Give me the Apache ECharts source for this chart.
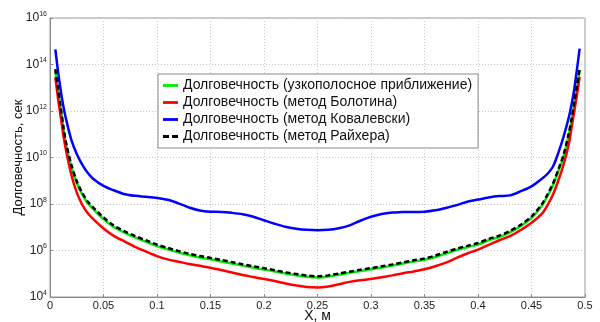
<!DOCTYPE html>
<html>
<head>
<meta charset="utf-8">
<script src="https://cdn.jsdelivr.net/npm/echarts@6/dist/echarts.min.js"></script>
<style>
  html, body { margin: 0; padding: 0; background: #fff; }
  #chart { width: 600px; height: 322px; }
</style>
</head>
<body>
<div id="chart"></div>
<script>
// x positions, м
const xs = [0.005, 0.0075, 0.01, 0.0125, 0.015, 0.02, 0.025, 0.03, 0.035, 0.04,
  0.05, 0.06, 0.07, 0.08, 0.09, 0.10, 0.11, 0.12, 0.13, 0.14,
  0.15, 0.16, 0.17, 0.18, 0.19, 0.20, 0.21, 0.22, 0.23, 0.24,
  0.25, 0.26, 0.27, 0.28, 0.29, 0.30, 0.31, 0.32, 0.33, 0.34,
  0.35, 0.36, 0.37, 0.38, 0.39, 0.40, 0.41, 0.42, 0.43, 0.44,
  0.45, 0.46, 0.465, 0.47, 0.475, 0.48, 0.485, 0.4875, 0.49, 0.4925, 0.495]

// durability as decimal exponent (сек = 10^v)
const narrowbandExp = [13.72, 12.9, 12.1, 11.25, 10.55, 9.6, 8.9, 8.42, 8.05, 7.8,
  7.35, 7.0, 6.76, 6.55, 6.37, 6.19, 6.05, 5.92, 5.8, 5.7,
  5.62, 5.53, 5.44, 5.35, 5.26, 5.18, 5.1, 5.01, 4.94, 4.87,
  4.84, 4.88, 4.96, 5.04, 5.12, 5.19, 5.27, 5.35, 5.44, 5.53,
  5.6, 5.72, 5.87, 6.02, 6.14, 6.26, 6.44, 6.58, 6.78, 7.05,
  7.4, 7.95, 8.35, 8.8, 9.4, 10.05, 11.0, 11.6, 12.3, 13.0, 13.76]

const bolotinExp = [13.45, 12.55, 11.75, 10.95, 10.3, 9.25, 8.5, 7.98, 7.62, 7.37,
  6.95, 6.62, 6.38, 6.15, 5.95, 5.76, 5.62, 5.52, 5.42, 5.34,
  5.26, 5.16, 5.05, 4.95, 4.86, 4.77, 4.69, 4.58, 4.5, 4.43,
  4.41, 4.45, 4.55, 4.65, 4.72, 4.77, 4.85, 4.93, 5.02, 5.1,
  5.19, 5.32, 5.48, 5.68, 5.87, 6.04, 6.24, 6.44, 6.62, 6.88,
  7.19, 7.6, 7.95, 8.4, 9.0, 9.7, 10.6, 11.3, 12.0, 12.7, 13.47]

const kowalewskiExp = [14.65, 13.7, 12.9, 12.2, 11.65, 10.75, 10.15, 9.7, 9.35, 9.1,
  8.78, 8.58, 8.42, 8.35, 8.31, 8.26, 8.18, 8.03, 7.85, 7.72,
  7.67, 7.66, 7.62, 7.56, 7.45, 7.3, 7.15, 7.02, 6.94, 6.89,
  6.87, 6.89, 6.96, 7.08, 7.28, 7.45, 7.57, 7.63, 7.66, 7.66,
  7.67, 7.73, 7.83, 7.95, 8.1, 8.19, 8.28, 8.34, 8.37, 8.55,
  8.76, 9.1, 9.3, 9.6, 10.19, 10.9, 11.75, 12.3, 12.95, 13.8, 14.68]

const rayherExp = [13.8, 12.96, 12.16, 11.33, 10.63, 9.68, 8.98, 8.49, 8.12, 7.87,
  7.42, 7.06, 6.82, 6.61, 6.43, 6.25, 6.11, 5.98, 5.86, 5.76,
  5.68, 5.59, 5.5, 5.41, 5.32, 5.24, 5.15, 5.06, 4.99, 4.92,
  4.89, 4.93, 5.01, 5.09, 5.17, 5.24, 5.32, 5.4, 5.49, 5.58,
  5.66, 5.78, 5.93, 6.08, 6.2, 6.32, 6.5, 6.64, 6.84, 7.11,
  7.46, 8.01, 8.42, 8.87, 9.47, 10.12, 11.08, 11.68, 12.38, 13.08, 13.82]

const seriesNames = [
  'Долговечность (узкополосное приближение)',
  'Долговечность (метод Болотина)',
  'Долговечность (метод Ковалевски)',
  'Долговечность (метод Райхера)'
]

const toPoints = (exps) => xs.map((x, i) => [x, Math.pow(10, exps[i])])

const chart = echarts.init(document.getElementById('chart'), null, { renderer: 'canvas' })

const font = 'Liberation Sans, Arial, sans-serif'
const gridLine = { show: true, lineStyle: { color: '#c8c8c8', type: [1, 2], width: 1 } }

// legend glyphs: a short solid bar, or two dashes
const solidIcon = 'path://M0,4h16v3h-16z'
const dashIcon = 'path://M0,4h6v3h-6z M9,4h6v3h-6z'

const makeLine = (name, exps, color, dashed, z) => ({
  name,
  type: 'line',
  data: toPoints(exps),
  symbol: 'none',
  smooth: 0.3,
  z,
  lineStyle: { color, width: 2.5, type: dashed ? [5, 3] : 'solid' },
  itemStyle: { color }
})

chart.setOption({
  animation: false,
  textStyle: { fontFamily: font },
  grid: {
    left: 50, right: 15, top: 18, bottom: 25,
    outerBoundsMode: 'none',
    containLabel: false,
    show: true, borderColor: '#9a9a9a', borderWidth: 1, backgroundColor: '#fff'
  },
  legend: {
    orient: 'vertical',
    left: 158, top: 74,
    backgroundColor: '#fff',
    borderColor: '#8a8a8a',
    borderWidth: 1,
    borderRadius: 0,
    padding: [4, 6, 4, 5],
    itemGap: 2,
    itemWidth: 15,
    itemHeight: 11,
    textStyle: { fontFamily: font, fontSize: 14, lineHeight: 15, color: '#111' },
    data: seriesNames.map((n, i) => ({ name: n, icon: i === 3 ? dashIcon : solidIcon }))
  },
  xAxis: {
    type: 'value',
    min: 0, max: 0.5, interval: 0.05,
    name: 'X, м',
    nameLocation: 'middle',
    nameGap: 12,
    nameMoveOverlap: false,
    nameTextStyle: { fontSize: 14, color: '#111', fontFamily: font, verticalAlign: 'top' },
    axisLine: { lineStyle: { color: '#8a8a8a' } },
    axisTick: { inside: true, length: 3, lineStyle: { color: '#8a8a8a' } },
    axisLabel: {
      fontSize: 11, color: '#222', margin: 3,
      formatter: (v) => String(Math.round(v * 100) / 100)
    },
    splitLine: gridLine
  },
  yAxis: {
    type: 'log',
    logBase: 10,
    min: 1e4, max: 1e16, interval: 2,
    name: 'Долговечность, сек',
    nameLocation: 'middle',
    nameGap: 25,
    nameMoveOverlap: false,
    nameTextStyle: { fontSize: 13, color: '#111', fontFamily: font },
    axisLine: { lineStyle: { color: '#8a8a8a' } },
    axisTick: { inside: true, length: 3, lineStyle: { color: '#8a8a8a' } },
    minorTick: { show: false },
    axisLabel: {
      margin: 3,
      formatter: (v) => '{b|10}{s|' + Math.round(Math.log10(v)) + '}',
      rich: {
        b: { fontSize: 12, color: '#222', fontFamily: font },
        s: { fontSize: 7, color: '#222', fontFamily: font, verticalAlign: 'top', padding: [0, 0, 8, 0] }
      }
    },
    splitLine: gridLine
  },
  series: [
    makeLine(seriesNames[0], narrowbandExp, '#00ee00', false, 2),
    makeLine(seriesNames[1], bolotinExp, '#ff0000', false, 3),
    makeLine(seriesNames[2], kowalewskiExp, '#0000ff', false, 4),
    makeLine(seriesNames[3], rayherExp, '#000000', true, 5)
  ]
})

window.addEventListener('resize', () => chart.resize())
</script>
</body>
</html>
